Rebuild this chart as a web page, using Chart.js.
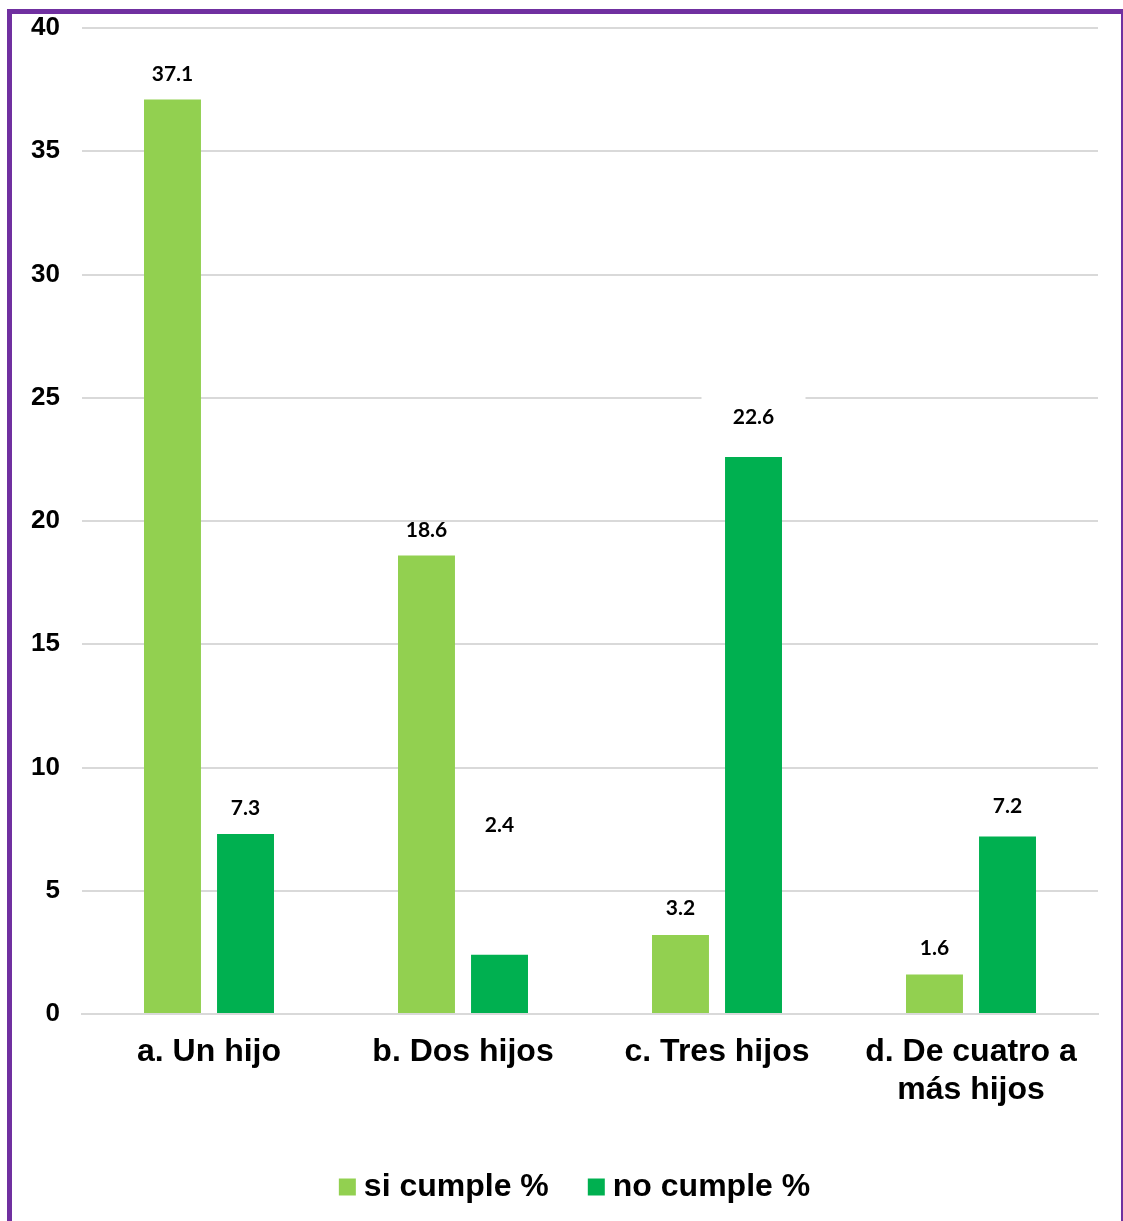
<!DOCTYPE html>
<html>
<head>
<meta charset="utf-8">
<script src="https://cdn.jsdelivr.net/npm/chart.js@4.4.1/dist/chart.umd.min.js"></script>
<style>
  html, body { margin: 0; padding: 0; background: #ffffff; overflow: hidden; }
  #wrap { position: absolute; left: 0; top: 0; width: 1123px; height: 1221px; }
  #frame { position: absolute; left: 7px; top: 9px; width: 1109px; height: 1300px;
           border-left: 5px solid #7030A0; border-top: 5px solid #7030A0; border-right: 2px solid #7030A0;
           pointer-events: none; box-sizing: content-box; }
</style>
</head>
<body>
<div id="wrap"><canvas id="c" width="1123" height="1221"></canvas></div>
<div id="frame"></div>
<script>
const categories = ["a. Un hijo", "b. Dos hijos", "c. Tres hijos", ["d. De cuatro a", "más hijos"]];
const siCumple = [37.1, 18.6, 3.2, 1.6];
const noCumple = [7.3, 2.4, 22.6, 7.2];
const seriesNames = ["si cumple %", "no cumple %"];
const yTicks = [0, 5, 10, 15, 20, 25, 30, 35, 40];

// label placement (pixels above bar top), per series
const labelRaise = [[25, 25, 27, 26], [26, 130, 40, 30]];

const valueLabels = {
  id: 'valueLabels',
  afterDatasetsDraw(chart) {
    const ctx = chart.ctx;
    ctx.save();
    ctx.font = 'bold 21px Lato, "Open Sans", sans-serif';
    ctx.textAlign = 'center';
    ctx.textBaseline = 'middle';
    chart.data.datasets.forEach((ds, di) => {
      const meta = chart.getDatasetMeta(di);
      meta.data.forEach((bar, i) => {
        const txt = ds.data[i].toFixed(1);
        const y = bar.y - labelRaise[di][i];
        if (di === 1 && i === 2) {
          ctx.fillStyle = '#ffffff';
          ctx.fillRect(bar.x - 52, y - 25, 104, 50);
        }
        ctx.fillStyle = '#000000';
        ctx.fillText(txt, bar.x, y);
      });
    });
    ctx.restore();
  }
};

// shift the legend's centring box to match the reference placement
const legendShift = {
  id: 'legendShift',
  afterLayout(chart) {
    if (chart.legend) { chart.legend.left = 59; }
  }
};

new Chart(document.getElementById('c'), {
  type: 'bar',
  data: {
    labels: categories,
    datasets: [
      { label: seriesNames[0], data: siCumple, backgroundColor: '#92D050', borderWidth: 0 },
      { label: seriesNames[1], data: noCumple, backgroundColor: '#00B050', borderWidth: 0 }
    ]
  },
  options: {
    responsive: false,
    animation: false,
    devicePixelRatio: 1,
    layout: { padding: { top: 28, right: 25, left: 0, bottom: 8 } },
    datasets: { bar: { categoryPercentage: 0.575, barPercentage: 0.78 } },
    scales: {
      x: {
        grid: { display: false, drawTicks: false },
        border: { display: true, color: '#D9D9D9', width: 2 },
        ticks: {
          color: '#000000',
          font: { family: '"Liberation Sans", Arial, sans-serif', size: 32, weight: 'bold', lineHeight: 1.16 },
          padding: 20,
          maxRotation: 0, autoSkip: false
        },
        afterFit(scale) { scale.height = 110; }
      },
      y: {
        min: 0, max: 40,
        afterBuildTicks(scale) { scale.ticks = yTicks.map(v => ({ value: v })); },
        grid: { color: '#D9D9D9', lineWidth: 2, drawTicks: false },
        border: { display: false },
        ticks: {
          color: '#000000',
          font: { family: '"Liberation Sans", Arial, sans-serif', size: 26, weight: 'bold' },
          padding: 22
        },
        afterFit(scale) { scale.width = 82; scale.paddingTop = 0; scale.paddingBottom = 0; }
      }
    },
    plugins: {
      legend: {
        position: 'bottom',
        labels: {
          color: '#000000',
          font: { family: '"Liberation Sans", Arial, sans-serif', size: 32, weight: 'bold' },
          usePointStyle: true, pointStyle: 'rect',
          boxWidth: 1, boxHeight: 17, padding: 47
        }
      },
      tooltip: { enabled: false }
    }
  },
  plugins: [valueLabels, legendShift]
});
</script>
</body>
</html>
